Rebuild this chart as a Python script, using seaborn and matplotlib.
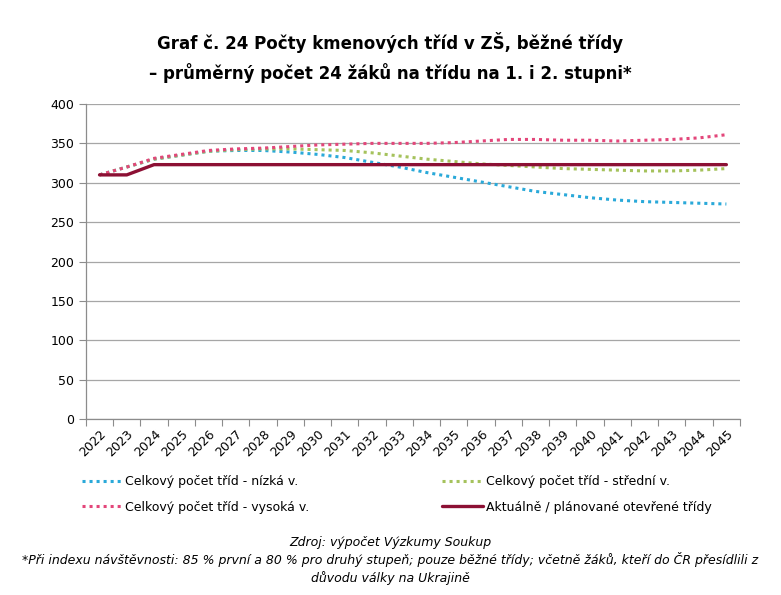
import matplotlib
matplotlib.use("Agg")
import matplotlib.pyplot as plt
import seaborn as sns
import pandas as pd
from matplotlib.lines import Line2D

years = list(range(2022, 2046))
low = [310, 320, 330, 335, 340, 341, 341, 339, 336, 332, 326, 320, 313, 307, 301, 295,
       289, 285, 281, 278, 276, 275, 274, 273]
mid = [310, 320, 330, 335, 340, 342, 343, 343, 342, 341, 338, 334, 330, 327, 324, 322,
       320, 318, 317, 316, 315, 315, 316, 318]
high = [310, 320, 331, 336, 341, 343, 344, 346, 348, 349, 350, 350, 350, 351, 353, 355,
        355, 354, 354, 353, 354, 355, 357, 361]
actual = [310, 310, 323, 323, 323, 323, 323, 323, 323, 323, 323, 323, 323, 323, 323, 323,
          323, 323, 323, 323, 323, 323, 323, 323]

names = ["Celkový počet tříd - nízká v.", "Celkový počet tříd - střední v.",
         "Celkový počet tříd - vysoká v.", "Aktuálně / plánované otevřené třídy"]
colors = ["#2aa9d9", "#a5c25c", "#e3467a", "#8c1034"]

sns.set_theme(style="white")
plt.rcParams['font.family'] = ['DejaVu Sans']
plt.rcParams['text.color'] = 'black'
plt.rcParams['xtick.color'] = 'black'
plt.rcParams['ytick.color'] = 'black'

fig = plt.figure(figsize=(7.81, 5.95), dpi=100)
ax = fig.add_axes([0.110, 0.2958, 0.8375, 0.5294])

dot = (0, (1, 1.3))
series = [(low, colors[0], dot, 2.2), (mid, colors[1], dot, 2.2),
          (high, colors[2], dot, 2.2), (actual, colors[3], '-', 2.4)]
handles = []
for (vals, c, ls, lw), nm in zip(series, names):
    df = pd.DataFrame({"year": years, "val": vals})
    sns.lineplot(data=df, x="year", y="val", ax=ax, color=c, linewidth=lw,
                 linestyle=ls, legend=False)
    handles.append(Line2D([0], [0], color=c, lw=lw, linestyle=ls, label=nm))

ax.set_xlim(years[0] - 0.5, years[-1] + 0.5)
ax.set_ylim(0, 400)
ax.set_yticks(range(0, 401, 50))
ax.set_xticks(years)
ax.set_xticklabels([str(y) for y in years], rotation=45, ha='right',
                   rotation_mode='anchor', fontsize=9)
ax.set_xticks([y - 0.5 for y in years] + [years[-1] + 0.5], minor=True)
ax.tick_params(axis='x', which='major', length=0, pad=6)
ax.tick_params(axis='x', which='minor', length=5, color='#8c8c8c', width=0.8, direction='out')
ax.tick_params(axis='y', length=5, color='#8c8c8c', width=0.8, direction='out', labelsize=9)
ax.xaxis.set_tick_params(which='minor', bottom=True)
ax.yaxis.set_tick_params(left=True)
ax.set_xlabel("")
ax.set_ylabel("")
ax.grid(axis='y', color='#a6a6a6', linewidth=0.9)
ax.set_axisbelow(True)
for s in ['top', 'right']:
    ax.spines[s].set_visible(False)
for s in ['left', 'bottom']:
    ax.spines[s].set_color('#8c8c8c')
    ax.spines[s].set_linewidth(0.9)

fig.text(0.5, 0.928, "Graf č. 24 Počty kmenových tříd v ZŠ, běžné třídy",
         ha='center', va='center', fontsize=12, fontweight='bold')
fig.text(0.5, 0.877, "– průměrný počet 24 žáků na třídu na 1. i 2. stupni*",
         ha='center', va='center', fontsize=12, fontweight='bold')

order = [handles[0], handles[2], handles[1], handles[3]]
leg = fig.legend(handles=order, labels=[h.get_label() for h in order], ncol=2,
                 loc='center', bbox_to_anchor=(0.508, 0.169), frameon=False,
                 fontsize=9, handlelength=3.3, handletextpad=0.2,
                 columnspacing=10.6, labelspacing=1.0)

fig.text(0.5, 0.089, "Zdroj: výpočet Výzkumy Soukup", ha='center', va='center',
         fontsize=9, style='italic')
fig.text(0.5, 0.059, "*Při indexu návštěvnosti: 85 % první a 80 % pro druhý stupeň; pouze běžné třídy; včetně žáků, kteří do ČR přesídlili z",
         ha='center', va='center', fontsize=9, style='italic')
fig.text(0.5, 0.029, "důvodu války na Ukrajině", ha='center', va='center',
         fontsize=9, style='italic')

fig.savefig("out.png", dpi=100)
